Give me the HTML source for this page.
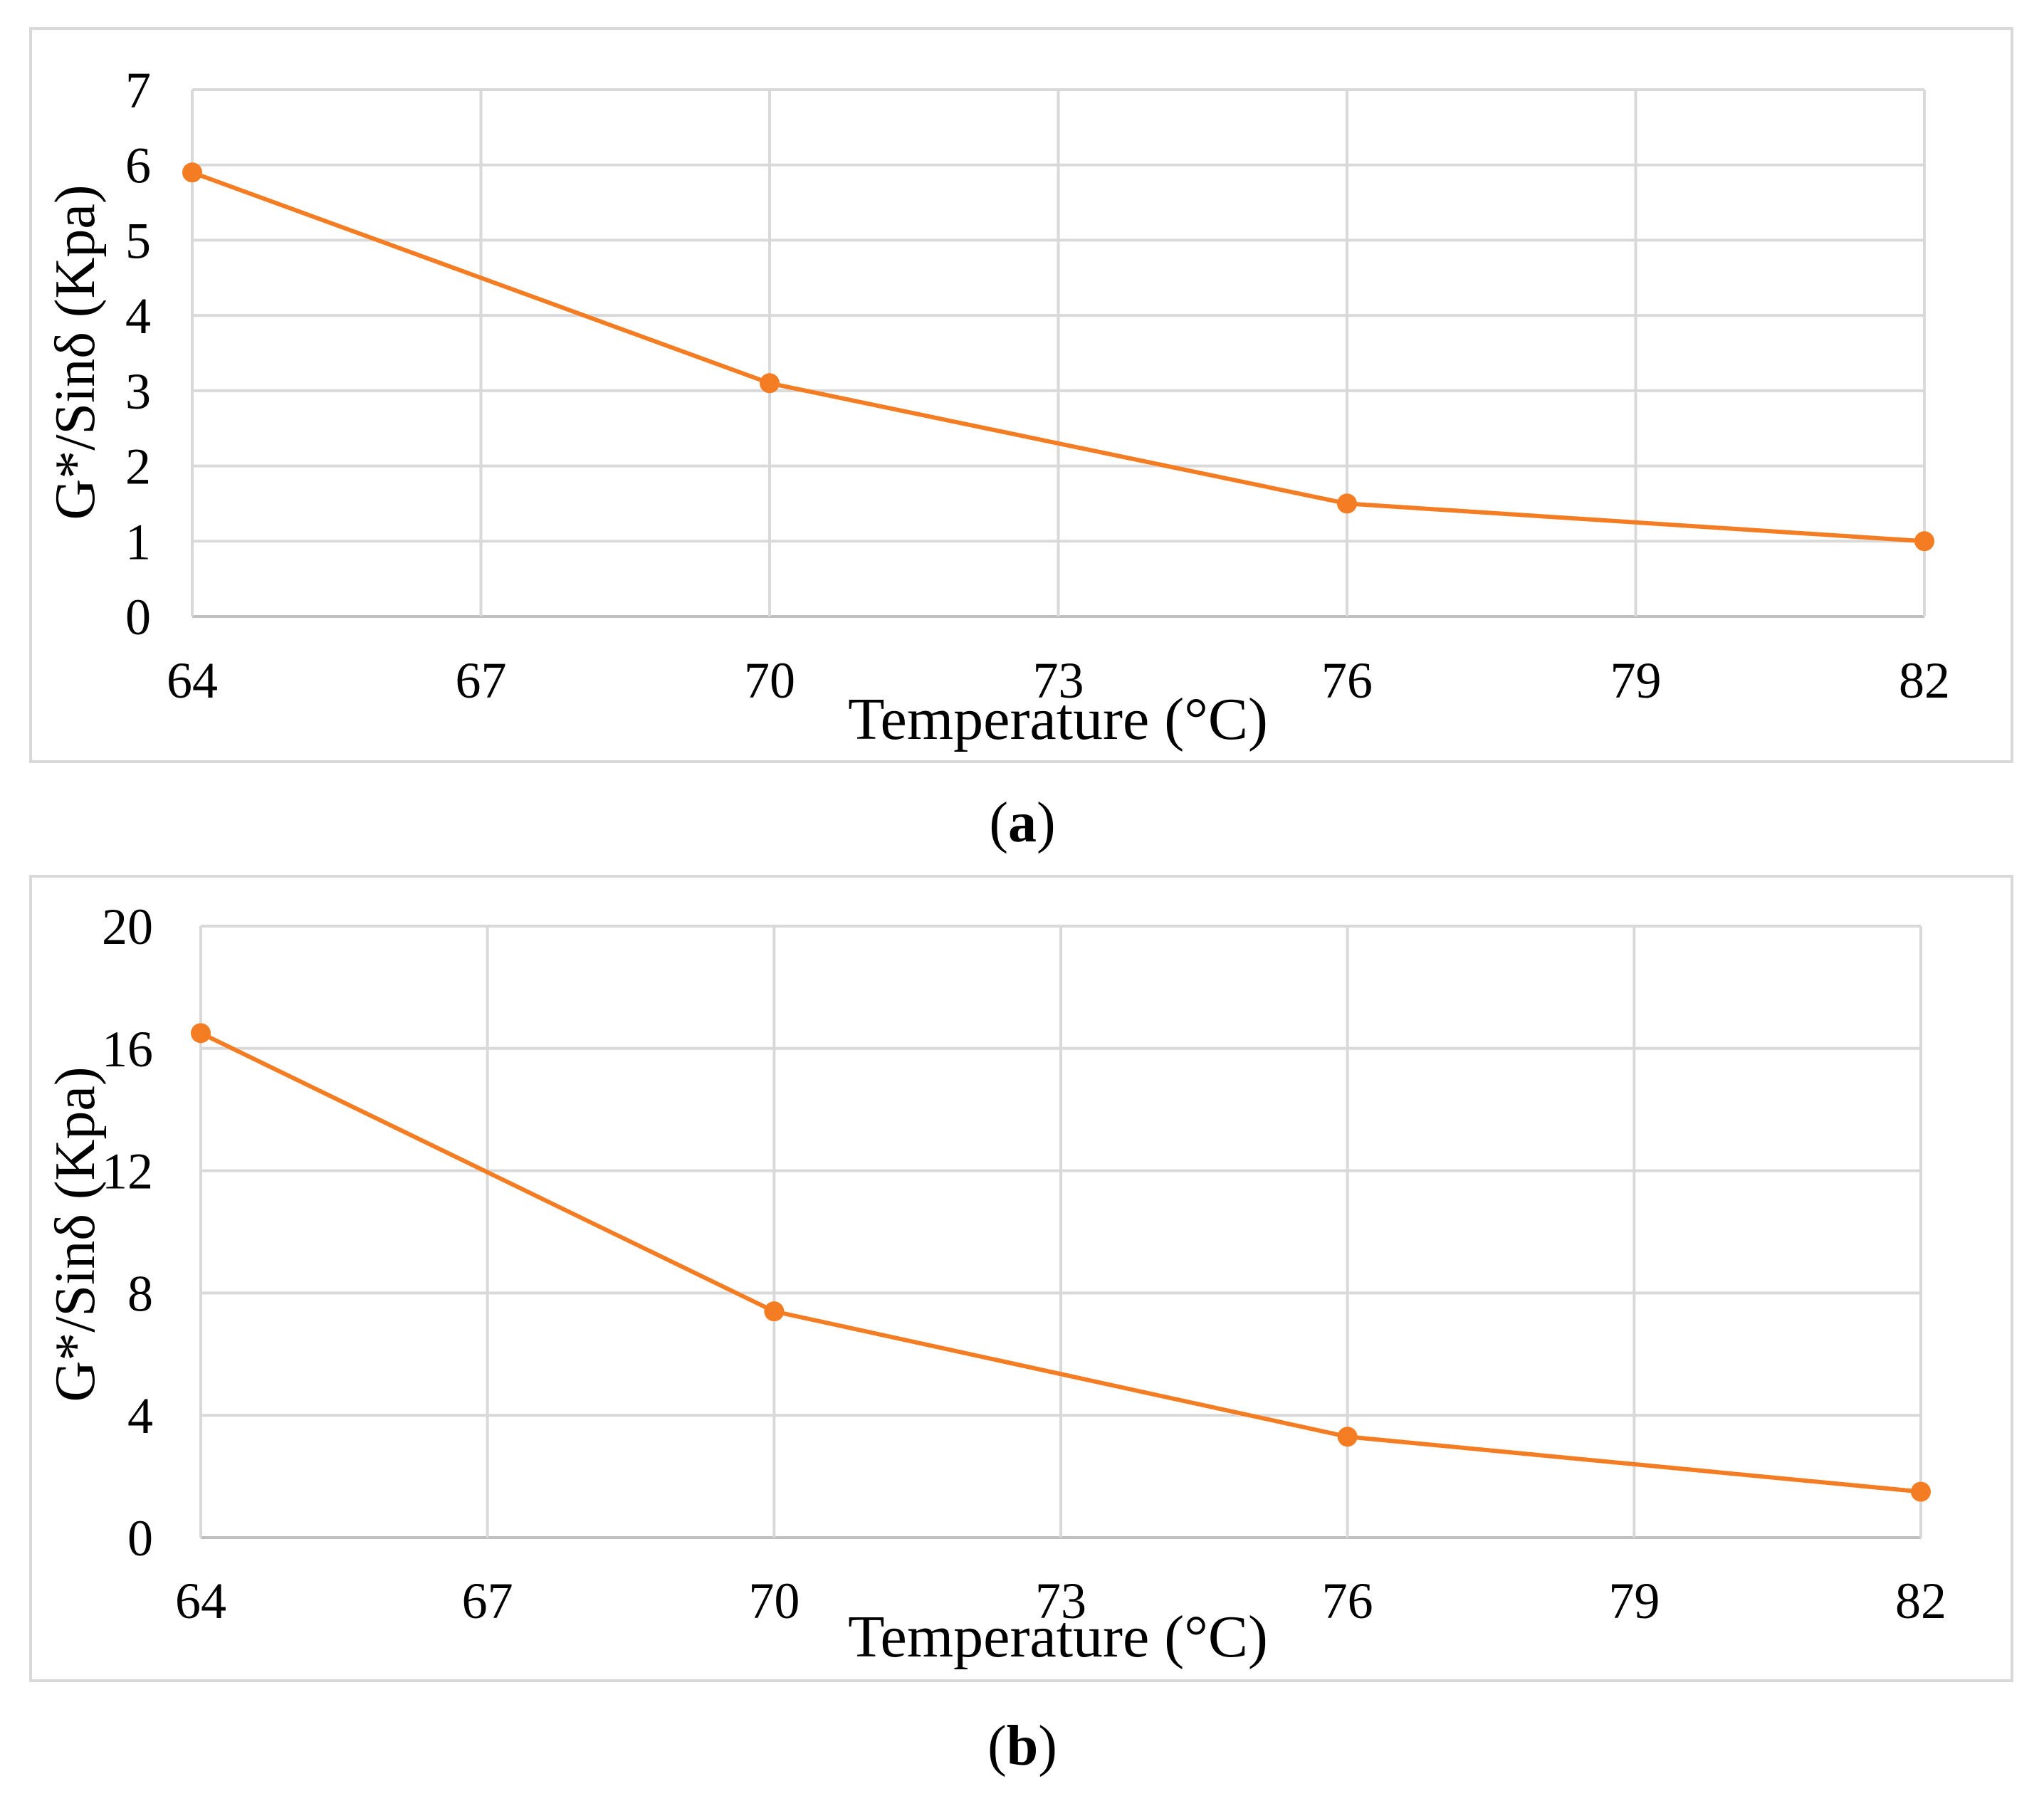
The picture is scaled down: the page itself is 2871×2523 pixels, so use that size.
<!DOCTYPE html>
<html><head><meta charset="utf-8">
<style>
html,body{margin:0;padding:0;background:#fff;}
svg{display:block;}
text{font-family:"Liberation Serif",serif;fill:#000;}
</style></head>
<body>
<svg id="fig" width="2871" height="2523" viewBox="0 0 2871 2523" xmlns="http://www.w3.org/2000/svg"></svg>
<script>
const categories = [64, 67, 70, 73, 76, 79, 82];
const dataX = [64, 70, 76, 82];
const seriesA = [5.9, 3.1, 1.5, 1.0];
const seriesB = [16.5, 7.4, 3.3, 1.5];
const ticksA = [0, 1, 2, 3, 4, 5, 6, 7];
const ticksB = [0, 4, 8, 12, 16, 20];

const NS = 'http://www.w3.org/2000/svg';
const svg = document.getElementById('fig');
function mk(tag, attrs, parent) {
  const e = document.createElementNS(NS, tag);
  for (const k in attrs) e.setAttribute(k, attrs[k]);
  (parent || svg).appendChild(e);
  return e;
}

function chart(cfg) {
  const g = mk('g', {});
  
  
  const fr = mk('rect', {x: cfg.frame[0], y: cfg.frame[1], width: cfg.frame[2], height: cfg.frame[3], fill: '#fff', stroke: '#d9d9d9', 'stroke-width': 4}, g);
  
  
  const xs = v => cfg.x0 + (v - 64) / 18 * (cfg.x1 - cfg.x0);
  const ys = v => cfg.y0 - v / cfg.ymax * (cfg.y0 - cfg.y1);
  cfg.ticks.forEach(t => {
    const l = mk('line', {x1: xs(64), x2: xs(82), y1: ys(t), y2: ys(t), stroke: t === 0 ? '#bfbfbf' : '#d9d9d9', 'stroke-width': 4}, g);
    
    
    const tx = mk('text', {x: cfg.ylabX, y: ys(t) + 25, 'font-size': 72, 'text-anchor': 'end'}, g);
    tx.textContent = t;
    
    
  });
  categories.forEach(c => {
    const l = mk('line', {x1: xs(c), x2: xs(c), y1: ys(0), y2: ys(cfg.ymax), stroke: '#d9d9d9', 'stroke-width': 4}, g);
    
    
    const tx = mk('text', {x: xs(c), y: cfg.xlabY, 'font-size': 72, 'text-anchor': 'middle'}, g);
    tx.textContent = c;
    
    
  });
  const pts = dataX.map((x, i) => xs(x) + ',' + ys(cfg.vals[i])).join(' ');
  const pl = mk('polyline', {points: pts, fill: 'none', stroke: '#f47c22', 'stroke-width': 6, 'stroke-linejoin': 'round'}, g);
  
  
  dataX.forEach((x, i) => {
    const c = mk('circle', {cx: xs(x), cy: ys(cfg.vals[i]), r: 14, fill: '#f47c22'}, g);
    
    
  });
  const xt = mk('text', {x: 1486, y: cfg.xtitleY, 'font-size': 84, 'text-anchor': 'middle'}, g);
  xt.textContent = 'Temperature (°C)';
  
  
  const yt = mk('text', {x: 0, y: 0, 'font-size': 80, 'text-anchor': 'middle', transform: 'translate(132,' + cfg.ytitleY + ') rotate(-90)'}, g);
  yt.textContent = 'G*/Sinδ (Kpa)';
  
  
  const cap = mk('text', {x: 1436, y: cfg.capY, 'font-size': 80, 'text-anchor': 'middle'}, g);
  cap.innerHTML = '(<tspan font-weight="bold">' + cfg.cap + '</tspan>)';
  
  
}

chart({name: 'chart-a', frame: [43, 40, 2783, 1030], x0: 270, x1: 2703, y0: 866, y1: 126, ymax: 7, ticks: ticksA, vals: seriesA,
  ylabX: 212, xlabY: 980, xtitleY: 1038, ytitleY: 495, capY: 1182, cap: 'a'});
chart({name: 'chart-b', frame: [43, 1231, 2783, 1130], x0: 282, x1: 2698, y0: 2160, y1: 1301, ymax: 20, ticks: ticksB, vals: seriesB,
  ylabX: 215, xlabY: 2273, xtitleY: 2327, ytitleY: 1734, capY: 2479, cap: 'b'});
</script>
</body></html>
